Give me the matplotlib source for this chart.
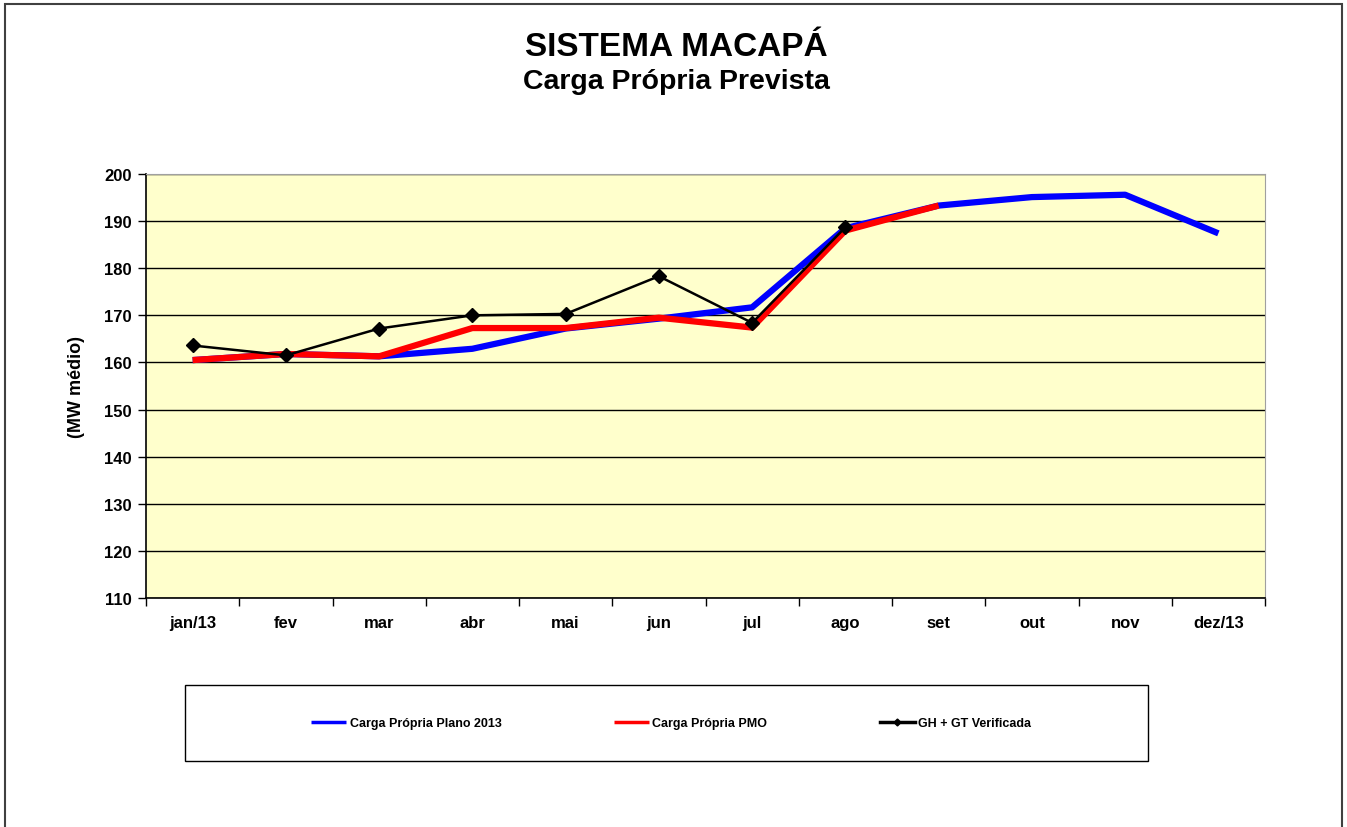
import matplotlib.pyplot as plt
from matplotlib.patches import Rectangle
from matplotlib.ticker import FixedLocator

plt.rcParams['font.family'] = ['Liberation Sans', 'DejaVu Sans']

# data
months = ['jan/13', 'fev', 'mar', 'abr', 'mai', 'jun', 'jul', 'ago', 'set', 'out', 'nov', 'dez/13']
plano_2013 = [160.5, 161.8, 161.3, 162.9, 167.2, 169.3, 171.7, 188.5, 193.3, 195.1, 195.6, 187.4]
pmo = [160.5, 161.8, 161.3, 167.3, 167.3, 169.5, 167.4, 188.0, 193.3]
verificada = [163.6, 161.5, 167.2, 170.0, 170.3, 178.3, 168.4, 188.7]
y_ticks = list(range(110, 201, 10))

W, H = 1347, 828
fig = plt.figure(figsize=(W / 100, H / 100), dpi=100)

# outer frame of the chart area
fig.patches.append(Rectangle((5 / W, -0.05), 1337 / W, 1.05 - 5 / H, transform=fig.transFigure,
                             fill=False, edgecolor='#404040', linewidth=1.5))

ax = fig.add_axes([146 / W, 1 - 599 / H, (1265 - 146) / W, (599 - 175) / H])
ax.set_facecolor('#FFFFCC')

x_all = list(range(len(months)))
ax.plot(x_all, plano_2013, color='#0000FF', linewidth=4.5, solid_capstyle='butt',
        label='Carga Própria Plano 2013', zorder=3)
ax.plot(x_all[:len(pmo)], pmo, color='#FF0000', linewidth=4.5, solid_capstyle='butt',
        label='Carga Própria PMO', zorder=4)
ax.plot(x_all[:len(verificada)], verificada, color='black', linewidth=1.8, marker='D',
        markersize=7, label='GH + GT Verificada', zorder=5)

ax.set_xlim(-0.5, len(months) - 0.5)
ax.set_ylim(110, 200)
ax.set_yticks(y_ticks)
ax.set_xticks(x_all)
ax.set_xticklabels(months)
ax.xaxis.set_minor_locator(FixedLocator([i + 0.5 for i in range(-1, len(months))]))
ax.tick_params(axis='x', which='major', length=0, pad=12)
ax.tick_params(axis='x', which='minor', length=6, width=1, direction='out', color='black')
ax.tick_params(axis='y', length=6, width=1, direction='out', pad=4)
for lab in ax.get_xticklabels() + ax.get_yticklabels():
    lab.set_fontweight('bold')
    lab.set_fontsize(12)

ax.grid(axis='y', color='black', linewidth=1)
ax.set_axisbelow(True)
for s in ['top', 'right']:
    ax.spines[s].set_color('#A0A0A0')
for s in ['left', 'bottom']:
    ax.spines[s].set_color('black')
    ax.spines[s].set_linewidth(1.2)

ax.set_ylabel('(MW médio)', fontsize=13, fontweight='bold', labelpad=14)

fig.text(676 / W, 1 - 47 / H, 'SISTEMA MACAPÁ', ha='center', va='center',
         fontsize=24, fontweight='bold')
fig.text(676 / W, 1 - 82 / H, 'Carga Própria Prevista', ha='center', va='center',
         fontsize=20.5, fontweight='bold')

# legend box
fig.patches.append(Rectangle((185 / W, 1 - 762 / H), (1148 - 185) / W, (762 - 686) / H,
                             transform=fig.transFigure, fill=False, edgecolor='black', linewidth=1))
handles, labels = ax.get_legend_handles_labels()
leg = fig.legend(handles, labels, loc='center', bbox_to_anchor=(671 / W, 1 - 724 / H), ncol=3,
                 frameon=False, prop={'size': 9, 'weight': 'bold'}, handlelength=2.8,
                 handletextpad=0.25, columnspacing=9.0, markerscale=0.5)
for line in leg.get_lines():
    line.set_linewidth(2.5)

fig.savefig('out.png', dpi=100)
